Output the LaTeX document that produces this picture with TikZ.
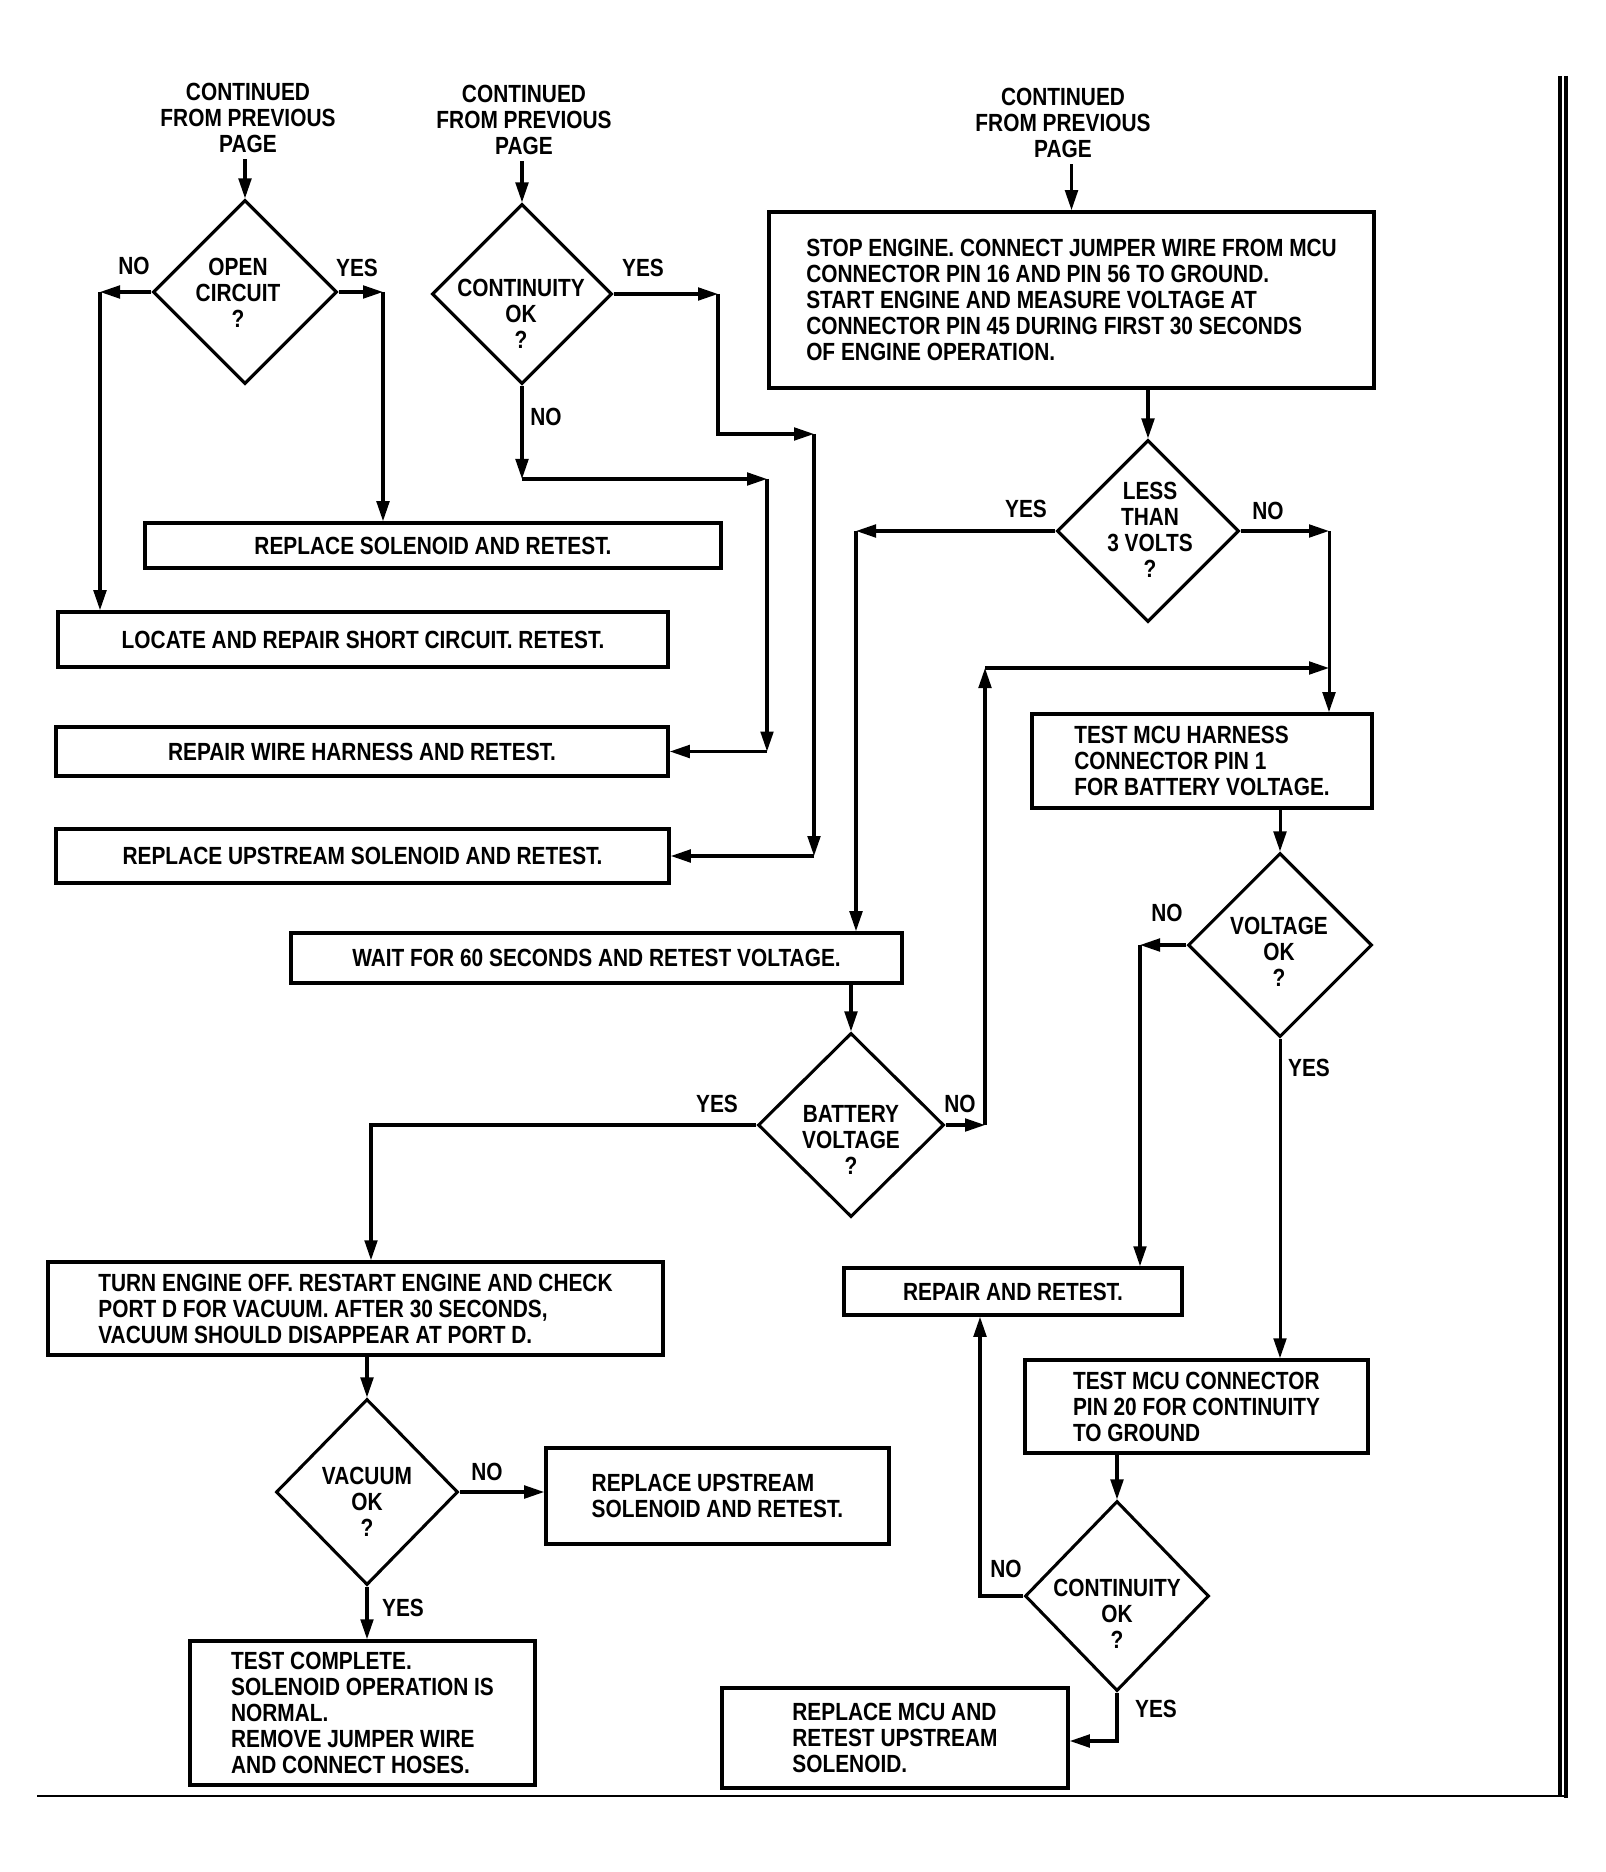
\documentclass[tikz,border=0pt]{standalone}
\usepackage{fontspec}
\setmainfont{Liberation Sans}[FakeStretch=0.84]
\usetikzlibrary{shapes.geometric,arrows.meta}

\begin{document}
\begin{tikzpicture}[x=0.015cm, y=-0.015cm, >={Triangle[length=0.3cm,width=0.19cm]}, line width=1.3pt, font=\fontsize{10.6}{11.1}\selectfont\bfseries]
	\tikzstyle{box}=[rectangle, draw=black, line width=1.5pt, inner sep=0pt, align=center]
	\tikzstyle{diam}=[diamond, draw=black, line width=1.3pt, inner sep=0pt, minimum width=2.76cm, minimum height=2.76cm]
	\tikzstyle{txt}=[inner sep=2pt, align=center]
	\useasboundingbox (0,0) rectangle (1605,1872);

	% top of the page
	\draw node[txt] at (248,118) (t1) {CONTINUED\\FROM PREVIOUS\\PAGE};
	\draw node[txt] at (524,120) (t2) {CONTINUED\\FROM PREVIOUS\\PAGE};
	\draw node[txt] at (1063,123) (t3) {CONTINUED\\FROM PREVIOUS\\PAGE};

	% decisions
	\draw node[diam] at (245,292) (d1) {};
	\draw node[txt] at (238,293) (q1) {OPEN\\CIRCUIT\\?};
	\draw node[diam, minimum width=2.7cm, minimum height=2.7cm] at (522,294) (d2) {};
	\draw node[txt] at (521,314) (q2) {CONTINUITY\\OK\\?};
	\draw node[diam, minimum width=2.73cm, minimum height=2.73cm] at (1148,531) (d3) {};
	\draw node[txt] at (1150,530) (q3) {LESS\\THAN\\3 VOLTS\\?};
	\draw node[diam, minimum width=2.79cm] at (851,1125) (d4) {};
	\draw node[txt] at (851,1140) (q4) {BATTERY\\VOLTAGE\\?};
	\draw node[diam, minimum width=2.73cm, minimum height=2.79cm] at (367,1492) (d5) {};
	\draw node[txt] at (367,1502) (q5) {VACUUM\\OK\\?};
	\draw node[diam] at (1280,945) (d6) {};
	\draw node[txt] at (1279,952) (q6) {VOLTAGE\\OK\\?};
	\draw node[diam, minimum height=2.85cm] at (1117,1596) (d7) {};
	\draw node[txt] at (1117,1614) (q7) {CONTINUITY\\OK\\?};

	% actions
	\draw node[box, minimum width=8.64cm, minimum height=0.675cm] at (433,545.5) (bsol) {REPLACE SOLENOID AND RETEST.};
	\draw node[box, minimum width=9.15cm, minimum height=0.825cm] at (363,639.5) (bshort) {LOCATE AND REPAIR SHORT CIRCUIT. RETEST.};
	\draw node[box, minimum width=9.18cm, minimum height=0.735cm] at (362,751.5) (bharn) {REPAIR WIRE HARNESS AND RETEST.};
	\draw node[box, minimum width=9.195cm, minimum height=0.81cm] at (362.5,856) (bups) {REPLACE UPSTREAM SOLENOID AND RETEST.};
	\draw node[box, align=left, minimum width=9.075cm, minimum height=2.64cm] at (1071.5,300) (bstop) {STOP ENGINE. CONNECT JUMPER WIRE FROM MCU\\CONNECTOR PIN 16 AND PIN 56 TO GROUND.\\START ENGINE AND MEASURE VOLTAGE AT\\CONNECTOR PIN 45 DURING FIRST 30 SECONDS\\OF ENGINE OPERATION.};
	\draw node[box, minimum width=9.165cm, minimum height=0.75cm] at (596.5,958) (bwait) {WAIT FOR 60 SECONDS AND RETEST VOLTAGE.};
	\draw node[box, align=left, minimum width=5.1cm, minimum height=1.41cm] at (1202,761) (bmcu1) {TEST MCU HARNESS\\CONNECTOR PIN 1\\FOR BATTERY VOLTAGE.};
	\draw node[box, minimum width=5.07cm, minimum height=0.705cm] at (1013,1291.5) (brep) {REPAIR AND RETEST.};
	\draw node[box, align=left, minimum width=9.225cm, minimum height=1.395cm] at (355.5,1308.5) (bturn) {TURN ENGINE OFF. RESTART ENGINE AND CHECK\\PORT D FOR VACUUM. AFTER 30 SECONDS,\\VACUUM SHOULD DISAPPEAR AT PORT D.};
	\draw node[box, align=left, minimum width=5.145cm, minimum height=1.44cm] at (717.5,1496) (bups2) {REPLACE UPSTREAM\\SOLENOID AND RETEST.};
	\draw node[box, align=left, minimum width=5.145cm, minimum height=1.395cm] at (1196.5,1406.5) (bmcu2) {TEST MCU CONNECTOR\\PIN 20 FOR CONTINUITY\\TO GROUND};
	\draw node[box, align=left, minimum width=5.175cm, minimum height=2.16cm] at (362.5,1713) (bdone) {TEST COMPLETE.\\SOLENOID OPERATION IS\\NORMAL.\\REMOVE JUMPER WIRE\\AND CONNECT HOSES.};
	\draw node[box, align=left, minimum width=5.19cm, minimum height=1.5cm] at (895,1738) (bmcu3) {REPLACE MCU AND\\RETEST UPSTREAM\\SOLENOID.};

	% yes / no
	\draw node[txt] at (134,266) (n1) {NO};
	\draw node[txt] at (357,268) (y1) {YES};
	\draw node[txt] at (643,268) (y2) {YES};
	\draw node[txt] at (546,417) (n2) {NO};
	\draw node[txt] at (1026,509) (y3) {YES};
	\draw node[txt] at (1268,511) (n3) {NO};
	\draw node[txt] at (717,1104) (y4) {YES};
	\draw node[txt] at (960,1104) (n4) {NO};
	\draw node[txt] at (487,1472) (n5) {NO};
	\draw node[txt] at (403,1608) (y5) {YES};
	\draw node[txt] at (1167,913) (n6) {NO};
	\draw node[txt] at (1309,1068) (y6) {YES};
	\draw node[txt] at (1006,1569) (n7) {NO};
	\draw node[txt] at (1156,1709) (y7) {YES};

	% bends
	\coordinate (c1) at (100,292);
	\coordinate (c2) at (383,292);
	\coordinate (c3) at (718,294);
	\coordinate (c4) at (814,434);
	\coordinate (c5) at (c4 |- bups.east);
	\coordinate (c6) at (522,479);
	\coordinate (c7) at (767,479);
	\coordinate (c8) at (c7 |- bharn.east);
	\coordinate (c9) at (856,531);
	\coordinate (c10) at (1329,531);
	\coordinate (c11) at (371,1125);
	\coordinate (c12) at (985,1125);
	\coordinate (c13) at (985,668);
	\coordinate (c14) at (1140,945);
	\coordinate (c15) at (980,1596);
	\coordinate (c16) at (1117,1741);

	\draw [->] (d1.north |- t1.south) -- (d1.north);
	\draw [->] (d2.north |- t2.south) -- (d2.north);
	\draw [->] (bstop.north |- t3.south) -- (bstop.north);

	\draw [->] (d1.west) -- (c1);
	\draw [->] (c1) -- (c1 |- bshort.north);
	\draw [->] (d1.east) -- (c2);
	\draw [->] (c2) -- (c2 |- bsol.north);

	\draw [->] (d2.east) -- (c3);
	\draw [->] (c3) |- (c4);
	\draw [->] (c4) -- (c5);
	\draw [->] (c5) -- (bups.east);
	\draw [->] (d2.south) -- (c6);
	\draw [->] (c6) -- (c7);
	\draw [->] (c7) -- (c8);
	\draw [->] (c8) -- (bharn.east);

	\draw [->] (bstop.south -| d3.north) -- (d3.north);
	\draw [->] (d3.west) -- (c9);
	\draw [->] (c9) -- (c9 |- bwait.north);
	\draw [->] (d3.east) -- (c10);
	\draw [->] (c10) -- (c10 |- bmcu1.north);

	\draw [->] (d4.north |- bwait.south) -- (d4.north);
	\draw [->] (d4.west) -- (c11) -- (c11 |- bturn.north);
	\draw [->] (d4.east) -- (c12);
	\draw [->] (c12) -- (c13);
	\draw [->] (c13) -- (c13 -| c10);

	\draw [->] (d5.north |- bturn.south) -- (d5.north);
	\draw [->] (d5.east) -- (d5.east -| bups2.west);
	\draw [->] (d5.south) -- (d5.south |- bdone.north);

	\draw [->] (d6.north |- bmcu1.south) -- (d6.north);
	\draw [->] (d6.west) -- (c14);
	\draw [->] (c14) -- (c14 |- brep.north);
	\draw [->] (d6.south) -- (d6.south |- bmcu2.north);

	\draw [->] (d7.north |- bmcu2.south) -- (d7.north);
	\draw [->] (d7.west) -- (c15) -- (c15 |- brep.south);
	\draw [->] (d7.south) -- (c16) -- (c16 -| bmcu3.east);

	% page edge
	\draw [line width=1.5pt] (1560,76) -- (1560,1796);
	\draw [line width=1.5pt] (1566,76) -- (1566,1798);
	\draw [line width=0.8pt] (37,1796) -- (1566,1796);
\end{tikzpicture}
\end{document}
